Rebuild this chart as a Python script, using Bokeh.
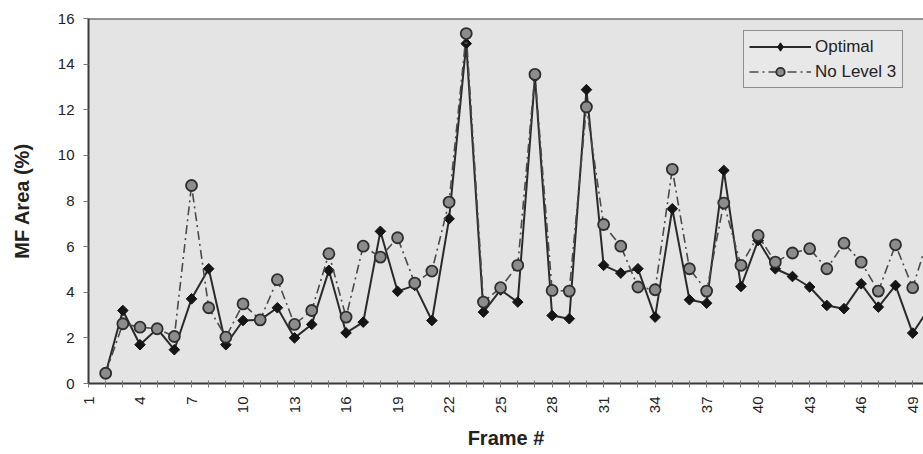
import math
from bokeh.plotting import figure
from bokeh.models import (Range1d, FixedTicker, Legend, LegendItem, Span,
                          ColumnDataSource)
from bokeh.embed import file_html
from bokeh.resources import INLINE

nan = float("nan")

frames = list(range(1, 51))
optimal = [nan, 0.45, 3.2, 1.70, 2.4, 1.48, 3.71, 5.03, 1.70, 2.76,
           2.79, 3.32, 2.00, 2.59, 4.96, 2.22, 2.69, 6.67, 4.04, 4.3,
           2.76, 7.22, 14.9, 3.13, 4.1, 3.57, 13.44, 2.98, 2.84, 12.88,
           5.18, 4.84, 5.03, 2.91, 7.66, 3.67, 3.52, 9.34, 4.25, 6.27,
           5.03, 4.69, 4.23, 3.42, 3.28, 4.37, 3.35, 4.30, 2.21, 3.35]
no_level3 = [nan, 0.45, 2.62, 2.47, 2.4, 2.06, 8.68, 3.32, 2.03, 3.49,
             2.79, 4.55, 2.59, 3.2, 5.69, 2.91, 6.02, 5.54, 6.39, 4.4,
             4.93, 7.95, 15.34, 3.57, 4.2, 5.18, 13.55, 4.08, 4.05, 12.12,
             6.97, 6.02, 4.23, 4.11, 9.39, 5.03, 4.05, 7.91, 5.18, 6.49,
             5.32, 5.72, 5.91, 5.03, 6.15, 5.32, 4.05, 6.08, 4.2, 6.6]
tick_labels = [str(i) for i in range(1, 51, 3)]
y_ticks = [0, 2, 4, 6, 8, 10, 12, 14, 16]

FONT = "Liberation Sans"
BG = "#e4e4e4"
DARK = "#2a2a2a"

src = ColumnDataSource(dict(x=frames, opt=optimal, nl3=no_level3))

p = figure(width=923, height=454, output_backend="svg", toolbar_location=None,
           x_range=Range1d(1, 49.63), y_range=Range1d(0, 16),
           min_border_left=88, min_border_right=0, min_border_top=18,
           min_border_bottom=71)
p.background_fill_color = BG
p.border_fill_color = "white"
p.outline_line_color = None
p.xgrid.visible = False
p.ygrid.visible = False

l_opt = p.line("x", "opt", source=src, line_color=DARK, line_width=2)
s_opt = p.scatter("x", "opt", source=src, marker="square", size=7.5,
                  angle=math.pi / 4,
                  fill_color="#151515", line_color="#151515")
# legend-only swatch glyph (holds no data point)
s_opt_leg = p.scatter(x=[nan], y=[nan], marker="diamond", size=12,
                      fill_color="#151515", line_color="#151515")
l_nl3 = p.line("x", "nl3", source=src, line_color="#4a4a4a", line_width=1.6,
               line_dash="9 4 2 4")
s_nl3 = p.scatter("x", "nl3", source=src, marker="circle", size=11,
                  fill_color="#8c8c8c", line_color="#2e2e2e", line_width=1.8)

p.add_layout(Span(location=16, dimension="width", line_color="#3a3a3a",
                  line_width=2))

# x axis
xa = p.xaxis[0]
xa.ticker = FixedTicker(ticks=frames)
xa.major_label_overrides = {i: (str(i) if str(i) in tick_labels else "")
                            for i in frames}
xa.major_label_orientation = math.pi / 2
xa.major_tick_in = 3
xa.major_tick_out = 4
xa.minor_tick_line_color = None
xa.axis_line_color = "#3a3a3a"
xa.axis_line_width = 2
xa.major_tick_line_color = "#777777"
xa.major_label_text_font = FONT
xa.major_label_text_font_size = "15px"
xa.major_label_text_color = "#222222"
xa.major_label_standoff = 9
xa.axis_label = "Frame #"
xa.axis_label_text_font = FONT
xa.axis_label_text_font_style = "bold"
xa.axis_label_text_font_size = "20px"
xa.axis_label_text_color = "#222222"
xa.axis_label_standoff = 11

# y axis
ya = p.yaxis[0]
ya.ticker = FixedTicker(ticks=y_ticks)
ya.major_tick_in = 0
ya.major_tick_out = 5
ya.minor_tick_line_color = None
ya.axis_line_color = "#3a3a3a"
ya.axis_line_width = 2
ya.major_tick_line_color = "#777777"
ya.major_label_text_font = FONT
ya.major_label_text_font_size = "15px"
ya.major_label_text_color = "#222222"
ya.major_label_standoff = 9
ya.axis_label = "MF Area (%)"
ya.axis_label_text_font = FONT
ya.axis_label_text_font_style = "bold"
ya.axis_label_text_font_size = "20px"
ya.axis_label_text_color = "#222222"
ya.axis_label_standoff = 22

legend = Legend(items=[LegendItem(label="Optimal", renderers=[l_opt, s_opt_leg]),
                       LegendItem(label="No Level 3", renderers=[l_nl3, s_nl3])],
                location=(655, 295))
legend.background_fill_color = "#e8e8e8"
legend.background_fill_alpha = 1
legend.border_line_color = "#333333"
legend.border_line_width = 1
legend.padding = 5
legend.margin = 0
legend.spacing = 4
legend.glyph_width = 62
legend.glyph_height = 21
legend.label_height = 21
legend.label_width = 82
legend.label_standoff = 4
legend.label_text_font = FONT
legend.label_text_font_size = "17px"
legend.label_text_color = "#222222"
p.add_layout(legend, "center")

open("out.html", "w").write(file_html(p, INLINE))
